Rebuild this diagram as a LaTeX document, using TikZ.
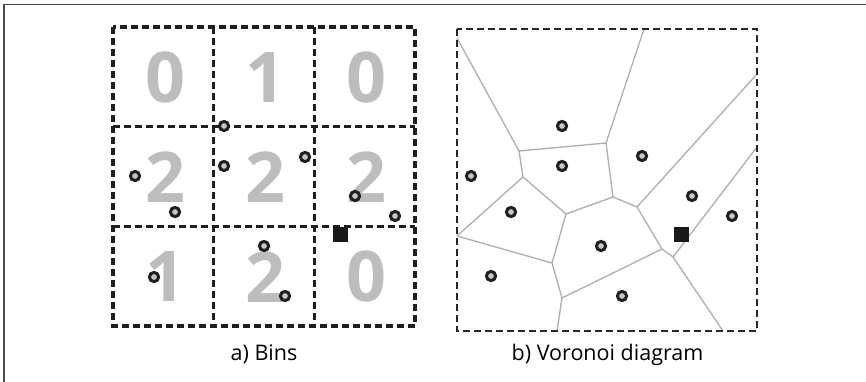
\documentclass[tikz,border=0pt]{standalone}
\usepackage{fontspec}
\setmainfont{Open Sans}
\begin{document}
\begin{tikzpicture}[x=1pt, y=-1pt,
    site/.style={circle, draw=black!88, fill=gray!45, line width=3pt, minimum size=9.2pt, inner sep=0pt},
    query/.style={rectangle, fill=black!90, minimum size=15pt, inner sep=0pt},
    binline/.style={black!88, line width=3.3pt, dash pattern=on 7pt off 4pt},
    boxline/.style={black!85, line width=2.5pt, dash pattern=on 7pt off 4pt},
    count/.style={font=\fontsize{70}{70}\selectfont\bfseries, text=gray!52},
    cell/.style={gray!60, line width=1.4pt},
    caption/.style={font=\fontsize{21.5}{24}\selectfont, anchor=base}]
    \useasboundingbox (0,0) rectangle (866,382);
    \draw[gray!60!black, line width=1.6pt] (4,382) -- (4,4.5) -- (866,4.5);

    % a) bins
    \begin{scope}
        \foreach \n [count=\k from 0] in {0,1,0,2,2,2,1,2,0} {
            \pgfmathtruncatemacro{\col}{mod(\k,3)}
            \pgfmathtruncatemacro{\row}{\k/3}
            \node[count] (count\k) at (165+100.7*\col, 77.5+99.7*\row) {\n};
        }
        \draw[binline] (113,27) rectangle (415,326);
        \foreach \x in {213.7,314.3} \draw[binline] (\x,27) -- (\x,326);
        \foreach \y in {126.7,226.3} \draw[binline] (113,\y) -- (415,\y);

        \foreach \x/\y [count=\i] in {224/126, 135/176, 175/212, 224/166, 305/157,
                                      355/196, 395/216, 264/246, 154/277, 285/296}
            \node[site] (bin\i) at (\x,\y) {};
        \node[query] (binq) at (340,234) {};

        \node[caption] (capa) at (264,360) {a) Bins};
    \end{scope}

    % b) voronoi diagram
    \begin{scope}
        \coordinate (A) at (457,38);   \coordinate (B) at (519,151);
        \coordinate (C) at (644,29);   \coordinate (D) at (606,143);
        \coordinate (E) at (523,177);  \coordinate (F) at (613,197);
        \coordinate (G) at (566,214);  \coordinate (H) at (457,236);
        \coordinate (I) at (552,263);  \coordinate (J) at (637,207);
        \coordinate (K) at (757,74);   \coordinate (L) at (662,249);
        \coordinate (M) at (673,257);  \coordinate (N) at (757,147);
        \coordinate (O) at (562,298);  \coordinate (P) at (557,331);
        \coordinate (Q) at (723,331);

        \draw[cell] (A) -- (B) -- (D) -- (C);
        \draw[cell] (B) -- (E) -- (G) -- (F) -- (D);
        \draw[cell] (E) -- (H);
        \draw[cell] (H) -- (I) -- (G);
        \draw[cell] (F) -- (J) -- (K);
        \draw[cell] (J) -- (L) -- (M) -- (N);
        \draw[cell] (M) -- (Q);
        \draw[cell] (L) -- (O) -- (I);
        \draw[cell] (O) -- (P);

        \draw[boxline] (457,29) rectangle (757,331);

        \foreach \x/\y [count=\i] in {562/126, 471/176, 511/212, 562/166, 642/156,
                                      692/196, 732/216, 601/246, 491/276, 622/296}
            \node[site] (vor\i) at (\x,\y) {};
        \node[query] (vorq) at (681,234) {};

        \node[caption] (capb) at (607.5,360) {b) Voronoi diagram};
    \end{scope}
\end{tikzpicture}
\end{document}
